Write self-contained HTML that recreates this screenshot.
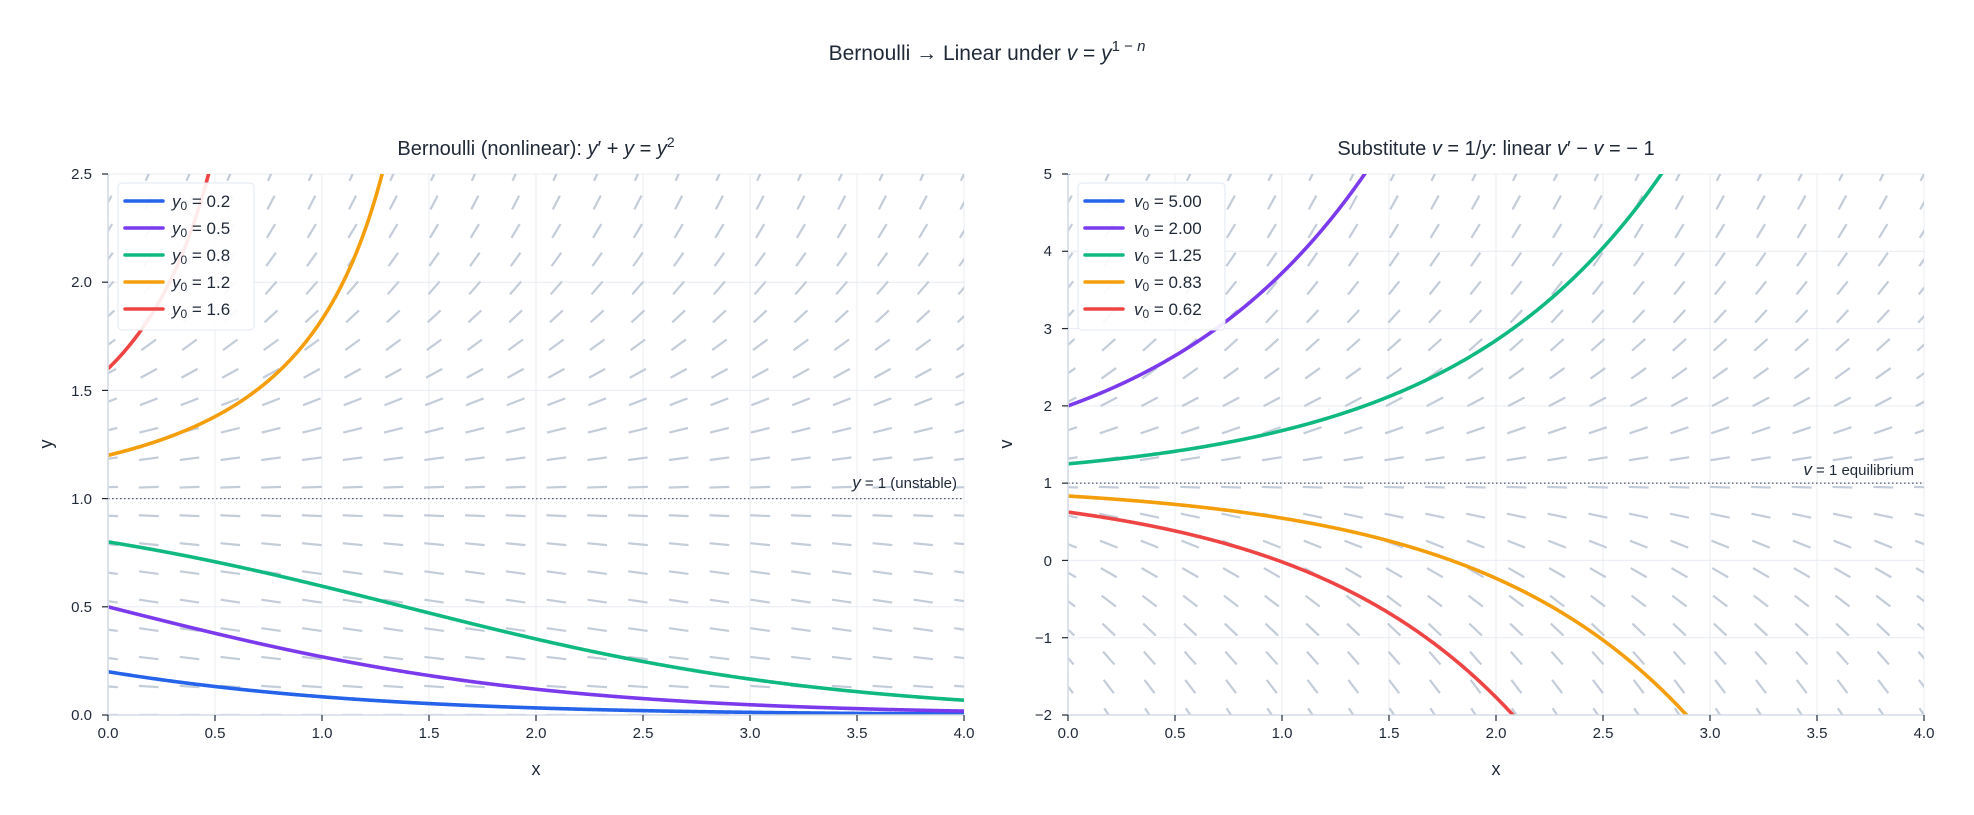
<!DOCTYPE html>
<html><head><meta charset="utf-8"><style>
body{margin:0;background:#fff}
svg{display:block}
text{font-family:"Liberation Sans","DejaVu Sans",sans-serif;fill:#1f2937}
.t{font-size:15px}
.it{font-style:italic}
</style></head><body>
<svg id="s" width="1974" height="815" viewBox="0 0 1974 815" xmlns="http://www.w3.org/2000/svg">
<defs>
<clipPath id="c1"><rect x="108" y="174" width="856" height="541"/></clipPath>
<clipPath id="c2"><rect x="1068" y="174" width="856" height="541"/></clipPath>
</defs>
<g id="grid"></g>
<g id="field"></g>
<g id="curves"></g>
<text x="987" y="60" font-size="21" text-anchor="middle">Bernoulli → Linear under <tspan class="it">v</tspan> = <tspan class="it">y</tspan><tspan font-size="15" dy="-9">1 − <tspan class="it">n</tspan></tspan></text>
<text x="536" y="155" font-size="20" text-anchor="middle">Bernoulli (nonlinear): <tspan class="it">y</tspan>′ + <tspan class="it">y</tspan> = <tspan class="it">y</tspan><tspan font-size="14" dy="-8">2</tspan></text>
<text x="1496" y="155" font-size="20" text-anchor="middle">Substitute <tspan class="it">v</tspan> = 1/<tspan class="it">y</tspan>: linear <tspan class="it">v</tspan>′ − <tspan class="it">v</tspan> = − 1</text>
<text x="536" y="775" font-size="18" text-anchor="middle">x</text>
<text x="1496" y="775" font-size="18" text-anchor="middle">x</text>
<text x="52" y="444" font-size="18" text-anchor="middle" transform="rotate(-90 52 444)">y</text>
<text x="1012" y="444" font-size="18" text-anchor="middle" transform="rotate(-90 1012 444)">v</text>
<g class="t" text-anchor="middle">
<text x="108" y="738">0.0</text><text x="215" y="738">0.5</text><text x="322" y="738">1.0</text><text x="429" y="738">1.5</text><text x="536" y="738">2.0</text><text x="643" y="738">2.5</text><text x="750" y="738">3.0</text><text x="857" y="738">3.5</text><text x="964" y="738">4.0</text>
<text x="1068" y="738">0.0</text><text x="1175" y="738">0.5</text><text x="1282" y="738">1.0</text><text x="1389" y="738">1.5</text><text x="1496" y="738">2.0</text><text x="1603" y="738">2.5</text><text x="1710" y="738">3.0</text><text x="1817" y="738">3.5</text><text x="1924" y="738">4.0</text>
</g>
<g class="t" text-anchor="end">
<text x="92" y="720">0.0</text><text x="92" y="612">0.5</text><text x="92" y="504">1.0</text><text x="92" y="396">1.5</text><text x="92" y="287">2.0</text><text x="92" y="179">2.5</text>
<text x="1052" y="720">−2</text><text x="1052" y="643">−1</text><text x="1052" y="566">0</text><text x="1052" y="488">1</text><text x="1052" y="411">2</text><text x="1052" y="334">3</text><text x="1052" y="256">4</text><text x="1052" y="179">5</text>
</g>
<g id="axes"></g>
<text x="957" y="488" font-size="15" text-anchor="end"><tspan class="it" font-size="17">y</tspan> = 1 (unstable)</text>
<text x="1914" y="475" font-size="15" text-anchor="end"><tspan class="it" font-size="17">v</tspan> = 1 equilibrium</text>
<g>
<rect x="118" y="183" width="136" height="147" rx="4" fill="#fff" fill-opacity="0.9" stroke="#e2e8f0"/>
<rect x="1078" y="183" width="147" height="147" rx="4" fill="#fff" fill-opacity="0.9" stroke="#e2e8f0"/>
<g stroke-width="3.5" stroke-linecap="round">
<line x1="125" x2="163" y1="201" y2="201" stroke="#2563eb"/><line x1="125" x2="163" y1="228" y2="228" stroke="#7c3aed"/><line x1="125" x2="163" y1="255" y2="255" stroke="#10b981"/><line x1="125" x2="163" y1="282" y2="282" stroke="#f59e0b"/><line x1="125" x2="163" y1="309" y2="309" stroke="#ef4444"/>
<line x1="1085" x2="1123" y1="201" y2="201" stroke="#2563eb"/><line x1="1085" x2="1123" y1="228" y2="228" stroke="#7c3aed"/><line x1="1085" x2="1123" y1="255" y2="255" stroke="#10b981"/><line x1="1085" x2="1123" y1="282" y2="282" stroke="#f59e0b"/><line x1="1085" x2="1123" y1="309" y2="309" stroke="#ef4444"/>
</g>
<g font-size="17">
<text x="172" y="207"><tspan class="it">y</tspan><tspan font-size="12" dy="3">0</tspan><tspan dy="-3"> = 0.2</tspan></text>
<text x="172" y="234"><tspan class="it">y</tspan><tspan font-size="12" dy="3">0</tspan><tspan dy="-3"> = 0.5</tspan></text>
<text x="172" y="261"><tspan class="it">y</tspan><tspan font-size="12" dy="3">0</tspan><tspan dy="-3"> = 0.8</tspan></text>
<text x="172" y="288"><tspan class="it">y</tspan><tspan font-size="12" dy="3">0</tspan><tspan dy="-3"> = 1.2</tspan></text>
<text x="172" y="315"><tspan class="it">y</tspan><tspan font-size="12" dy="3">0</tspan><tspan dy="-3"> = 1.6</tspan></text>
<text x="1134" y="207"><tspan class="it">v</tspan><tspan font-size="12" dy="3">0</tspan><tspan dy="-3"> = 5.00</tspan></text>
<text x="1134" y="234"><tspan class="it">v</tspan><tspan font-size="12" dy="3">0</tspan><tspan dy="-3"> = 2.00</tspan></text>
<text x="1134" y="261"><tspan class="it">v</tspan><tspan font-size="12" dy="3">0</tspan><tspan dy="-3"> = 1.25</tspan></text>
<text x="1134" y="288"><tspan class="it">v</tspan><tspan font-size="12" dy="3">0</tspan><tspan dy="-3"> = 0.83</tspan></text>
<text x="1134" y="315"><tspan class="it">v</tspan><tspan font-size="12" dy="3">0</tspan><tspan dy="-3"> = 0.62</tspan></text>
</g>
</g>
</svg>
<script>
(function(){
var NS="http://www.w3.org/2000/svg";
function el(p,tag,a){var e=document.createElementNS(NS,tag);for(var k in a)e.setAttribute(k,a[k]);p.appendChild(e);return e;}
var grid=document.getElementById('grid'),field=document.getElementById('field'),curves=document.getElementById('curves'),axes=document.getElementById('axes');
var P=[{x0:108,ymin:0,ymax:2.5,yt:[0,0.5,1,1.5,2,2.5],f:function(y){return y*y-y},clip:'c1',k:0.6,
 sol:[0.2,0.5,0.8,1.2,1.6].map(function(y0){return function(x){var d=1+(1/y0-1)*Math.exp(x);return 1/d;}}),eq:1},
 {x0:1068,ymin:-2,ymax:5,yt:[-2,-1,0,1,2,3,4,5],f:function(v){return v-1},clip:'c2',k:0.5,
 sol:[5,2,1.25,0.8333,0.625].map(function(v0){return function(x){return 1+(v0-1)*Math.exp(x);}}),eq:1}];
var cols=["#2563eb","#7c3aed","#10b981","#f59e0b","#ef4444"];
var T=174,B=715,W=856;
P.forEach(function(p){
 var sx=W/4, sy=(B-T)/(p.ymax-p.ymin);
 function X(x){return p.x0+x*sx} function Y(y){return B-(y-p.ymin)*sy}
 for(var i=0;i<=8;i++) el(grid,'line',{x1:X(i*0.5),x2:X(i*0.5),y1:T,y2:B,stroke:'#e8ecf2','stroke-width':1});
 p.yt.forEach(function(v){el(grid,'line',{x1:p.x0,x2:p.x0+W,y1:Y(v),y2:Y(v),stroke:'#e8ecf2','stroke-width':1});});
 var g=el(field,'g',{'clip-path':'url(#'+p.clip+')',stroke:'#c3ccd9','stroke-width':2.2});
 for(var i=0;i<22;i++)for(var j=0;j<20;j++){
  var x=4*i/21,y=p.ymin+(p.ymax-p.ymin)*j/19;
  var s=p.f(y)*p.k; var n=Math.sqrt(1+s*s); var L=10/(1+0.15*Math.abs(s));
  var dx=L/n,dy=L*s/n,cx=X(x),cy=Y(y);
  el(g,'line',{x1:cx-dx,y1:cy+dy,x2:cx+dx,y2:cy-dy});
 }
 el(curves,'line',{x1:p.x0,x2:p.x0+W,y1:Y(p.eq),y2:Y(p.eq),stroke:'#4b5563','stroke-width':1.3,'stroke-dasharray':'1.5,2.5'});
 var cg=el(curves,'g',{'clip-path':'url(#'+p.clip+')',fill:'none','stroke-width':3.6,'stroke-linejoin':'round'});
 p.sol.forEach(function(fn,k){
  var d='',started=false;
  for(var t=0;t<=1000;t++){var x=4*t/1000,y=fn(x);
   if(!isFinite(y)||y>p.ymax+1||y<p.ymin-1||y<-50){ if(started) break; else continue;}
   d+=(started?'L':'M')+X(x).toFixed(2)+' '+Y(y).toFixed(2);started=true;}
  el(cg,'path',{d:d,stroke:cols[k]});
 });
 el(axes,'line',{x1:p.x0,x2:p.x0,y1:T,y2:B,stroke:'#d5dce6','stroke-width':1.6});
 el(axes,'line',{x1:p.x0,x2:p.x0+W,y1:B,y2:B,stroke:'#d5dce6','stroke-width':1.6});
 for(var i=0;i<=8;i++) el(axes,'line',{x1:X(i*0.5),x2:X(i*0.5),y1:B,y2:B+6,stroke:'#1f2937','stroke-width':1.2});
 p.yt.forEach(function(v){el(axes,'line',{x1:p.x0-6,x2:p.x0,y1:Y(v),y2:Y(v),stroke:'#1f2937','stroke-width':1.2});});
});
})();
</script>
</body></html>
